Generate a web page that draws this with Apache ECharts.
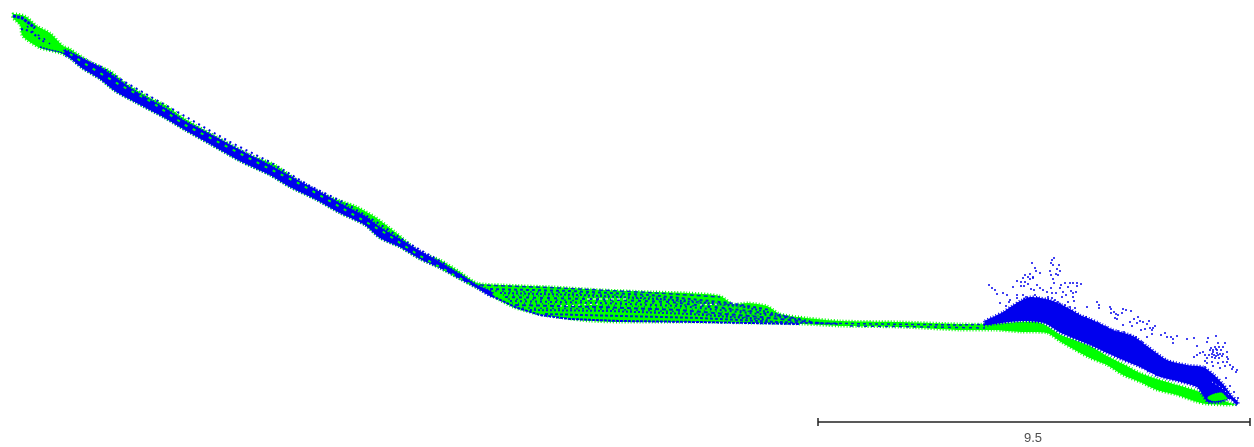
<!DOCTYPE html>
<html><head><meta charset="utf-8">
<style>html,body{margin:0;padding:0;background:#fff}#c{width:1254px;height:447px}</style>
<script src="https://cdn.jsdelivr.net/npm/echarts@6/dist/echarts.min.js"></script>
</head><body><div id="c"></div>
<script>
// Values (along-profile position, depth; same units as the picture)
const GREEN='#00ff00', BLUE='#0000ee';
const outerUpper=[[13,14],[25,16],[37,26],[50,33],[63,46],[70,49],[90,62],[110,71],[125,83],[150,98],[165,105],[185,119],[215,136],[250,155],[275,165],[300,182],[330,197],[355,206],[375,217],[395,232],[420,252],[440,260],[460,272],[477,283],[503,285],[553,287],[603,290],[653,292],[687,293],[720,296],[733,304],[748,303],[767,306],[780,314],[807,318],[840,321],[900,322],[960,324],[994,324],[1021,322],[1041,323],[1061,335],[1090,346],[1107,356],[1123,364],[1140,373],[1157,379],[1177,385],[1197,391],[1207,396],[1219,399],[1233,404]];
const outerLower=[[13,18],[20,25],[22,35],[27,40],[40,48],[60,53],[70,58],[82,68],[100,79],[115,91],[135,102],[165,118],[185,130],[210,144],[240,161],[270,175],[290,187],[315,199],[340,213],[365,225],[380,238],[400,247],[420,259],[440,268],[460,279],[477,288],[492,296],[513,307],[537,314],[563,318],[590,321],[620,322],[687,322],[753,323],[803,324],[840,326],[900,327],[960,330],[994,330],[1021,332],[1047,333],[1061,342],[1090,358],[1107,365],[1123,375],[1140,382],[1157,390],[1177,395],[1197,402],[1207,404],[1230,405],[1236,404]];
const slopeBlueUpper=[[65,50],[80,57],[100,67],[115,77],[135,91],[165,108],[185,121],[210,134],[240,150],[270,165],[290,176],[315,189],[340,203],[365,216],[380,227],[400,239],[415,248],[440,262],[460,274],[477,285],[492,292]];
const slopeBlueLower=[[65,55],[70,58],[82,68],[100,79],[115,91],[135,102],[165,118],[185,130],[210,144],[240,161],[270,175],[290,187],[315,199],[340,213],[365,225],[380,238],[400,247],[420,259],[440,268],[460,279],[477,288],[492,297]];
const rightBlueUpper=[[985,321],[993,317],[1003,312],[1012,306],[1022,300],[1030,297],[1040,298],[1050,300],[1060,304],[1070,309],[1080,315],[1090,319],[1103,325],[1113,330],[1133,336],[1147,346],[1167,360],[1187,365],[1203,367],[1213,374],[1223,384],[1232,396],[1238,402]];
const rightBlueLower=[[985,325],[994,324],[1021,321],[1044,323],[1061,333],[1090,345],[1107,353],[1123,360],[1140,367],[1157,376],[1177,381],[1197,387],[1202,394],[1208,402],[1220,402],[1230,399],[1237,405]];
const pocketUpper=[[1208,397],[1214,394],[1222,393],[1227,398]];
const pocketLower=[[1208,399],[1214,401],[1222,400],[1227,399]];
const sparseBlue=[[1054,258],[1052,260],[1051,263],[1053,265],[1059,265],[1035,268],[1036,271],[1032,263],[1057,269],[1060,271],[1050,271],[1056,274],[1051,275],[1058,275],[1040,273],[1030,274],[1025,275],[1028,277],[1033,277],[1023,278],[1017,281],[1021,282],[1025,282],[1030,279],[1033,278],[1028,284],[1024,286],[1021,286],[1053,279],[989,285],[992,288],[995,290],[997,294],[1003,293],[1007,295],[1010,300],[1009,302],[1000,303],[1013,287],[1017,295],[1023,295],[1026,297],[1017,298],[1031,289],[1034,290],[1037,285],[1040,288],[1043,290],[1047,292],[1051,288],[1054,283],[1061,285],[1065,283],[1070,283],[1073,283],[1077,283],[1081,284],[1077,286],[1068,287],[1063,292],[1071,291],[1073,293],[1076,292],[1066,295],[1062,297],[1068,302],[1073,297],[1074,301],[1070,307],[1087,307],[1060,288],[1056,293],[1052,293],[1048,297],[1043,300],[1038,298],[1035,295],[1058,302],[1063,307],[1067,309],[1075,308],[1080,316],[1086,317],
[1097,302],[1099,305],[1099,308],[1110,307],[1111,309],[1114,312],[1111,313],[1116,314],[1118,315],[1115,318],[1117,319],[1123,309],[1126,310],[1131,311],[1122,313],[1130,322],[1134,319],[1138,317],[1140,321],[1143,322],[1137,323],[1132,326],[1123,325],[1149,321],[1147,324],[1150,328],[1153,328],[1155,326],[1152,330],[1145,329],[1141,330],[1147,337],[1152,334],[1161,335],[1165,333],[1167,337],[1171,337],[1177,336],[1173,339],[1173,343],[1187,339],[1194,338],[1197,346],[1194,357],[1208,338],[1207,342],[1216,336],[1218,343],[1225,343],[1223,347],[1203,352],[1205,355],[1210,350],[1213,352],[1217,353],[1221,350],[1223,354],[1227,357],[1212,357],[1215,358],[1219,358],[1205,361],[1207,363],[1212,362],[1218,363],[1223,362],[1227,362],[1230,365],[1233,367],[1237,370],[1232,369],[1236,372],[1205,367],[1220,368],[1225,366],[1213,366],[1200,353],[1197,355],[1222,356],[1217,350],[1209,355],[1207,358],[1227,352],[1228,359],[1215,347],[1211,348],[1219,347],[1212,354],[1214,355],[1216,356],[1218,355],[1220,354],[1213,350],[1216,349],
[1065,305],[1070,311],[1078,314],[1083,318],[1088,320],[1072,315],[1060,304],[1055,300],[1010,309],[1005,312],[1000,317],[995,319],[1006,306],[1018,303],[1024,299],[1048,299],[1052,298],[1092,321],[1098,323],[1106,327],[1112,330],[1118,331],[1124,332],[1130,335],[1136,337],[1142,342],[1150,350],[1226,378],[1230,386],[1234,392],[1238,398]];
// scan-line tracks visible through the middle section
const track1=[[480,285],[560,288],[640,292],[720,297]];
const track2=[[490,289],[570,291],[650,295],[730,303],[770,310]];
const track3=[[500,293],[580,295],[660,299],[740,306],[790,317]];
const track4=[[505,297],[590,299],[670,302],[750,311],[800,319]];
const track5=[[510,301],[600,303],[680,306],[760,314],[810,321]];
const track6=[[515,305],[600,307],[680,310],[760,317],[820,323]];
const track7=[[530,310],[610,311],[690,314],[770,320]];
const track8=[[545,314],[620,316],[700,318],[780,322],[840,324]];
const track9=[[815,323],[880,324],[960,325],[992,324]];
const track10=[[850,326],[930,327],[985,328]];
const track11=[[495,291],[575,293],[655,297],[735,305]];
const track12=[[503,295],[585,297],[665,300],[745,308]];
const track13=[[508,299],[595,301],[675,304],[755,312]];
const track14=[[512,303],[600,305],[680,308],[760,316]];
const track15=[[522,308],[605,309],[685,312],[765,319]];
const lowerEdge=[[492,296],[515,307],[540,315],[570,319],[620,321],[700,322],[800,324]];
const startEdge=[[40,47],[50,50],[60,52],[68,55]];
const startTop=[[13,16],[22,18],[30,24],[35,28]];
const startMid=[[21,29],[30,31],[40,39],[46,43]];
const slopeGreenFlecks=[[70,54],[90,67],[120,85],[150,101],[185,125],[220,143],[260,164],[300,184],[340,207],[385,233],[420,256],[470,284]];
const slopeBlueFlecks=[[100,66],[125,82],[160,102],[195,122],[230,142],[270,162],[310,186],[345,203],[375,221],[405,241],[445,264]];
const startBlueFlecks=[[27,26],[34,33],[42,37],[50,44]];
const whiteFleck1=[[587,299],[627,299]];
const whiteFleck2=[[560,306],[600,304]];
const whiteFleck3=[[700,305],[720,304]];
const whiteGap=[[1133,366],[1150,373],[1165,380]];
const tailSpeck=[[1212,382],[1222,388],[1230,396]];
const scaleLine=[[818,422],[1250,422]];
const scaleLabel=[[1033,438,'9.5']];

function band(name,up,lo,color,dash,w,smooth){
  const pts=up.concat(lo.slice().reverse());
  return {type:'custom',name,coordinateSystem:'cartesian2d',silent:true,animation:false,clip:false,
    data:pts,encode:{x:0,y:1},
    renderItem(params,api){
      if(params.dataIndex!==0) return null;
      return {type:'polygon',shape:{points:pts.map(p=>api.coord(p)),smooth:smooth==null?0.25:smooth},
        style:{fill:color,stroke:color,lineWidth:w||3,lineDash:dash||[1,2]}};
    }};
}
function track(data,color,dash,w,op){
  return {type:'line',data,showSymbol:false,silent:true,animation:false,
    lineStyle:{color,width:w||1.5,type:dash||[2,2],opacity:op==null?1:op}};
}
const option={
  animation:false,backgroundColor:'#fff',
  grid:{left:0,top:0,width:1254,height:447,containLabel:false},
  xAxis:{type:'value',min:0,max:1254,show:false},
  yAxis:{type:'value',min:0,max:447,inverse:true,show:false},
  series:[
    band('green',outerUpper,outerLower,GREEN),
    band('slopeBlue',slopeBlueUpper,slopeBlueLower,BLUE,[1,2],2.5),
    track(startTop,BLUE,[3,1],3),
    track(startMid,BLUE,[2,3],2),
    track(startEdge,BLUE,[2,1],1.5),
    track(startBlueFlecks,BLUE,[2,5],1.5),
    track(slopeGreenFlecks,GREEN,[3,6],2),
    track(slopeBlueFlecks,BLUE,[2,4],2),
    track(track1,BLUE,[4,3],1.5,.85),
    track(track2,BLUE,[3,3],2,.85),
    track(track3,BLUE,[2,2],2,.85),
    track(track4,BLUE,[3,4],2,.85),
    track(track5,BLUE,[2,3],2,.85),
    track(track6,BLUE,[4,3],2,.85),
    track(track7,BLUE,[2,2],2,.85),
    track(track8,BLUE,[3,2],2,.85),
    track(track9,BLUE,[3,3],1.5,.9),
    track(track10,BLUE,[3,4],1.5,.9),
    track(track11,BLUE,[2,5],1.5,.7),
    track(track12,BLUE,[1,4],1.5,.7),
    track(track13,BLUE,[2,6],1.5,.7),
    track(track14,BLUE,[1,5],1.5,.7),
    track(track15,BLUE,[2,4],1.5,.7),
    track(lowerEdge,BLUE,[3,1],2),
    track(whiteFleck1,'#fff',[3,3],1),
    track(whiteFleck2,'#fff',[2,4],1),
    track(whiteFleck3,'#fff',[2,3],1),
    band('rightBlue',rightBlueUpper,rightBlueLower,BLUE),
    band('pocket',pocketUpper,pocketLower,GREEN,[1,1],1),
    track(whiteGap,'#fff',[6,3],1),
    track(tailSpeck,'#fff',[1,3],1),
    {type:'scatter',data:sparseBlue,symbol:'rect',symbolSize:2,silent:true,animation:false,
      itemStyle:{color:BLUE,opacity:.75}},
    {type:'line',data:scaleLine,silent:true,animation:false,showSymbol:true,symbol:'rect',symbolSize:[1.5,8],
      lineStyle:{color:'#222',width:1.3},itemStyle:{color:'#222'}},
    {type:'scatter',data:scaleLabel,symbolSize:0,silent:true,animation:false,
      label:{show:true,position:'inside',formatter:p=>p.value[2],color:'#222',fontSize:13,fontFamily:'Liberation Sans'}}
  ]
};
echarts.init(document.getElementById('c'),null,{renderer:'canvas'}).setOption(option);
</script></body></html>
